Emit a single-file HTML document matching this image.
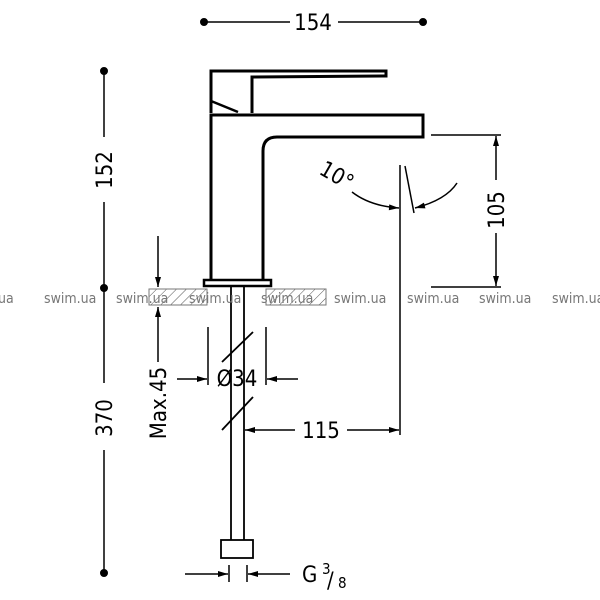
<!DOCTYPE html>
<html><head><meta charset="utf-8"><style>
html,body{margin:0;padding:0;background:#fff;width:600px;height:600px;overflow:hidden}
svg{display:block}
text{font-family:"DejaVu Sans Condensed","DejaVu Sans","Liberation Sans",sans-serif}
</style></head><body>
<svg width="600" height="600" viewBox="0 0 600 600" xmlns="http://www.w3.org/2000/svg">
<defs>
<pattern id="h" width="7" height="7" patternUnits="userSpaceOnUse" patternTransform="rotate(45)">
<line x1="0" y1="0" x2="0" y2="7" stroke="#555" stroke-width="1"/></pattern>
<marker id="a" viewBox="0 0 10 6" refX="10" refY="3" markerWidth="16" markerHeight="6" markerUnits="userSpaceOnUse" orient="auto"><path d="M0,0 L10,3 L0,6 Z" fill="#000"/></marker>
</defs>
<g stroke="#000" fill="none">
<line x1="204" y1="22" x2="290" y2="22" stroke-width="1.5"/>
<line x1="338" y1="22" x2="423" y2="22" stroke-width="1.5"/>
<circle cx="204" cy="22" r="3.5" fill="#000"/><circle cx="423" cy="22" r="3.5" fill="#000"/>
<line x1="104" y1="71" x2="104" y2="137" stroke-width="1.5"/>
<line x1="104" y1="202" x2="104" y2="288" stroke-width="1.5"/>
<line x1="104" y1="288" x2="104" y2="383" stroke-width="1.5"/>
<line x1="104" y1="450" x2="104" y2="573" stroke-width="1.5"/>
<circle cx="104" cy="71" r="3.5" fill="#000"/><circle cx="104" cy="288" r="3.5" fill="#000"/><circle cx="104" cy="573" r="3.5" fill="#000"/>
<path d="M211,113 L211,71 L386,71 L386,76 L252,77 L252,113" stroke-width="3"/>
<path d="M211,101 L238,112" stroke-width="2.5"/>
<path d="M211,280 L211,115 L423,115 L423,137 L277,137 Q263,137 263,151 L263,280" stroke-width="3"/>
<rect x="204" y="280" width="67" height="6" stroke-width="2.5"/>
<rect x="149" y="289" width="58" height="16" fill="url(#h)" stroke="#777" stroke-width="1"/>
<rect x="266" y="289" width="60" height="16" fill="url(#h)" stroke="#777" stroke-width="1"/>
<line x1="231" y1="286" x2="231" y2="540" stroke-width="1.8"/>
<line x1="244" y1="286" x2="244" y2="540" stroke-width="1.8"/>
<rect x="221" y="540" width="32" height="18" stroke-width="1.8" fill="#fff"/>
<line x1="222" y1="362" x2="253" y2="332" stroke-width="1.8"/>
<line x1="222" y1="430" x2="253" y2="397" stroke-width="1.8"/>
<line x1="208" y1="327" x2="208" y2="385" stroke-width="1.5"/>
<line x1="266" y1="327" x2="266" y2="385" stroke-width="1.5"/>
<line x1="177" y1="379" x2="207" y2="379" stroke-width="1.5" marker-end="url(#a)"/>
<line x1="298" y1="379" x2="267" y2="379" stroke-width="1.5" marker-end="url(#a)"/>
<line x1="158" y1="236" x2="158" y2="287" stroke-width="1.5" marker-end="url(#a)"/>
<line x1="158" y1="362" x2="158" y2="307" stroke-width="1.5" marker-end="url(#a)"/>
<line x1="295" y1="430" x2="245" y2="430" stroke-width="1.5" marker-end="url(#a)"/>
<line x1="347" y1="430" x2="399" y2="430" stroke-width="1.5" marker-end="url(#a)"/>
<line x1="400" y1="165" x2="400" y2="435" stroke-width="1.5"/>
<line x1="405" y1="166" x2="414" y2="213" stroke-width="1.5"/>
<path d="M352,192 Q370,206 399,208" stroke-width="1.5" marker-end="url(#a)"/>
<path d="M457,183 Q446,200 415,208" stroke-width="1.5" marker-end="url(#a)"/>
<line x1="431" y1="135" x2="501" y2="135" stroke-width="1.5"/>
<line x1="431" y1="287" x2="501" y2="287" stroke-width="1.5"/>
<line x1="496" y1="180" x2="496" y2="136" stroke-width="1.5" marker-end="url(#a)"/>
<line x1="496" y1="233" x2="496" y2="286" stroke-width="1.5" marker-end="url(#a)"/>
<line x1="229" y1="565" x2="229" y2="582" stroke-width="1.5"/>
<line x1="247" y1="565" x2="247" y2="582" stroke-width="1.5"/>
<line x1="185" y1="574" x2="228" y2="574" stroke-width="1.5" marker-end="url(#a)"/>
<line x1="290" y1="574" x2="248" y2="574" stroke-width="1.5" marker-end="url(#a)"/>
</g>
<g fill="#000" font-size="22">
<text x="313" y="30" text-anchor="middle">154</text>
<text transform="translate(112,170) rotate(-90)" text-anchor="middle">152</text>
<text transform="translate(112,418) rotate(-90)" text-anchor="middle">370</text>
<text transform="translate(166,403) rotate(-90)" text-anchor="middle">Max.45</text>
<text x="237" y="386" text-anchor="middle">Ø34</text>
<text x="321" y="438" text-anchor="middle">115</text>
<text transform="translate(504,210) rotate(-90)" text-anchor="middle">105</text>
<text transform="translate(333,182) rotate(30)" text-anchor="middle" font-size="22">10°</text>
<text x="302" y="582">G</text>
<text x="322" y="574" font-size="15">3</text>
<text x="327" y="588" font-size="22" font-weight="300">/</text>
<text x="338" y="588" font-size="15">8</text>
</g>
<g fill="#777" font-size="14" font-family="Liberation Sans,sans-serif">
<text x="-6" y="303">.ua</text>
<text x="44" y="303">swim.ua</text>
<text x="116" y="303">swim.ua</text>
<text x="189" y="303">swim.ua</text>
<text x="261" y="303">swim.ua</text>
<text x="334" y="303">swim.ua</text>
<text x="407" y="303">swim.ua</text>
<text x="479" y="303">swim.ua</text>
<text x="552" y="303">swim.ua</text>
</g>
</svg>
</body></html>
